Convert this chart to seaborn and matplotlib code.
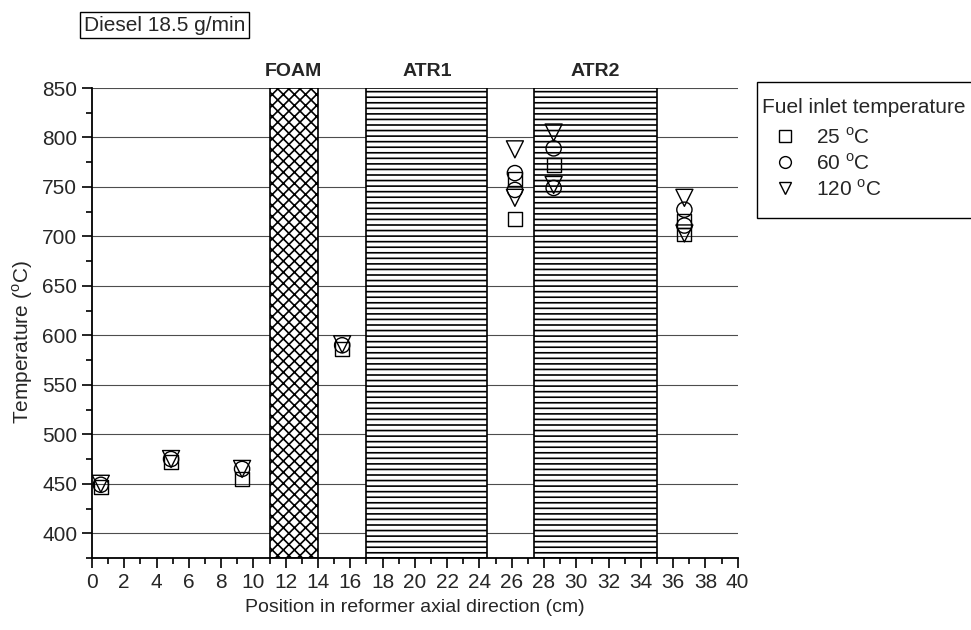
import matplotlib
matplotlib.use("Agg")
import matplotlib.pyplot as plt
import seaborn as sns
import numpy as np
import pandas as pd
from matplotlib.lines import Line2D
from matplotlib.patches import Rectangle
from matplotlib.ticker import MultipleLocator

# ---------------- data ----------------
x_25 = [0.55, 4.9, 9.3, 15.5, 26.2, 26.2, 28.6, 36.7, 36.7]
y_25 = [447, 472, 455, 586, 758, 718, 772, 716, 702]

x_60 = [0.55, 4.9, 9.3, 15.5, 26.2, 26.2, 28.6, 28.6, 36.7, 36.7]
y_60 = [449, 475, 465, 590, 764, 747, 789, 749, 727, 711]

x_120 = [0.55, 4.9, 9.3, 15.5, 26.2, 26.2, 28.6, 28.6, 36.7, 36.7]
y_120 = [450, 475, 465, 591, 788, 739, 805, 752, 739, 703]

zone_names = ["FOAM", "ATR1", "ATR2"]
zone_start = [11.0, 17.0, 27.4]
zone_end = [14.0, 24.5, 35.0]
zone_hatch = ["xxx", "---", "---"]

series_labels = [r"25 $^{\rm o}$C", r"60 $^{\rm o}$C", r"120 $^{\rm o}$C"]
series_markers = ["s", "o", "v"]

# ---------------- style ----------------
sns.set_style("ticks")
plt.rcParams["font.family"] = ["Liberation Sans", "DejaVu Sans"]
plt.rcParams["mathtext.fontset"] = "custom"
plt.rcParams["mathtext.rm"] = "Liberation Sans"
plt.rcParams["hatch.linewidth"] = 1.2

fig = plt.figure(figsize=(9.71, 6.30), dpi=100)
ax = fig.add_axes([0.0947, 0.1143, 0.665, 0.746])

# zones
for name, s, e, h in zip(zone_names, zone_start, zone_end, zone_hatch):
    ax.axvspan(s, e, facecolor="white", edgecolor="black", hatch=h, lw=1.2, zorder=1)
    ax.annotate(name, xy=((s + e) / 2, 1.0), xycoords=("data", "axes fraction"),
                xytext=(0, 6), textcoords="offset points", ha="center", va="bottom",
                fontsize=14, fontweight="bold")

# gridlines
for yv in range(400, 851, 50):
    ax.axhline(yv, color="0.3", lw=0.8, zorder=0.5)

# data
df = pd.concat([
    pd.DataFrame({"x": x_25, "y": y_25, "s": series_labels[0]}),
    pd.DataFrame({"x": x_60, "y": y_60, "s": series_labels[1]}),
    pd.DataFrame({"x": x_120, "y": y_120, "s": series_labels[2]}),
])
sizes = {"s": 100, "o": 120, "v": 150}
for lab, mk in zip(series_labels, series_markers):
    sub = df[df["s"] == lab]
    sns.scatterplot(data=sub, x="x", y="y", marker=mk, s=sizes[mk], ax=ax,
                    facecolors="none", edgecolors="black", linewidth=1.0, zorder=3,
                    legend=False)

ax.set_xlim(0, 40)
ax.set_ylim(375, 850)
ax.xaxis.set_major_locator(MultipleLocator(2))
ax.xaxis.set_minor_locator(MultipleLocator(1))
ax.yaxis.set_major_locator(MultipleLocator(50))
ax.yaxis.set_minor_locator(MultipleLocator(25))
ax.tick_params(axis="both", which="major", length=7, width=1.2, labelsize=15, color="black")
ax.tick_params(axis="both", which="minor", length=4, width=1.2, color="black")
for sp in ["top", "right"]:
    ax.spines[sp].set_visible(False)
for sp in ["left", "bottom"]:
    ax.spines[sp].set_linewidth(1.3)
    ax.spines[sp].set_color("black")
    ax.spines[sp].set_zorder(4)

ax.set_xlabel("Position in reformer axial direction (cm)", fontsize=14, labelpad=5)
ax.set_ylabel(r"Temperature ($^{\rm o}$C)", fontsize=15)
ax.yaxis.set_label_coords(-0.088, 0.46)

# legend (frame drawn separately)
fig.add_artist(Rectangle((757 / 971, 1 - 218 / 630), 0.3, 136 / 630,
                         transform=fig.transFigure, facecolor="white",
                         edgecolor="black", lw=1.0, zorder=0))
handles = [Line2D([], [], marker=m, linestyle="none", markerfacecolor="none",
                  markeredgecolor="black", markersize=8.5, markeredgewidth=1.0)
           for m in series_markers]
leg = fig.legend(handles, series_labels, title="Fuel inlet temperature",
                 loc="upper left", bbox_to_anchor=(762 / 971, 1 - 98 / 630),
                 fontsize=15, title_fontsize=15, frameon=False,
                 borderpad=0, handletextpad=0.4, handlelength=2.2,
                 labelspacing=0.26, borderaxespad=0)
leg._legend_box.align = "left"
leg._legend_box.sep = 7

# title box
fig.text(0.086, 0.96, "Diesel 18.5 g/min", fontsize=15, ha="left", va="center",
         bbox=dict(boxstyle="square,pad=0.18", facecolor="white", edgecolor="black", lw=1.0))

fig.savefig("out.png", dpi=100)
